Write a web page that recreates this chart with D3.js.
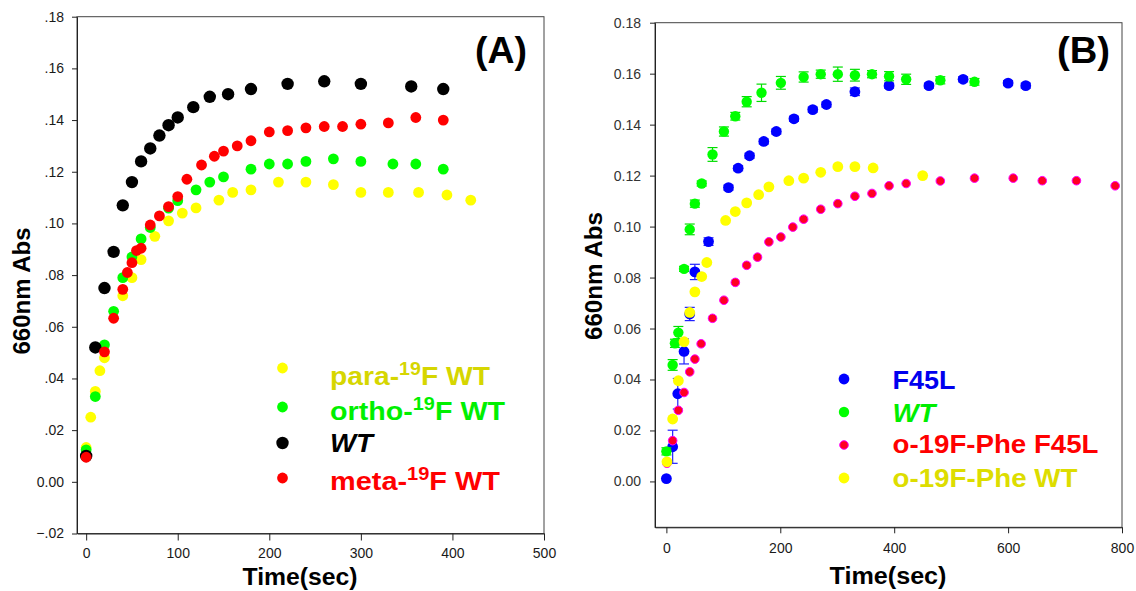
<!DOCTYPE html>
<html><head><meta charset="utf-8">
<script src="https://cdn.jsdelivr.net/npm/d3@7"></script>
<style>
body{margin:0;background:#fff}
svg{display:block}
text{font-family:"Liberation Sans",Arial,Helvetica,sans-serif}
</style>
</head><body>
<svg id="c" width="1136" height="591"></svg>
<script>
// ---------- Panel A data ----------
const paraT  = [0,5,10,15,20,40,50,60,75,90,105,120,145,160,180,210,240,270,300,330,363,394,420];
const paraV  = [.0133,.025,.035,.043,.048,.072,.079,.086,.095,.101,.104,.106,.109,.112,.113,.116,.116,.115,.112,.112,.112,.111,.109];
const orthoT = [0,10,20,30,40,50,60,70,90,100,120,135,150,180,200,220,240,270,300,335,360,390];
const orthoV = [.0124,.033,.053,.066,.079,.087,.094,.0984,.1059,.1088,.113,.116,.118,.121,.123,.123,.124,.125,.124,.123,.123,.121];
const wtAT   = [0,10,20,30,40,50,60,70,80,90,100,117,135,155,180,220,260,300,355,390];
const wtAV   = [.010,.052,.075,.089,.107,.116,.124,.129,.134,.138,.141,.145,.149,.150,.152,.154,.155,.154,.153,.152];
const metaT  = [0,20,30,40,45,50,55,60,70,80,90,100,110,126,140,150,165,180,200,220,240,260,280,300,330,360,390];
const metaV  = [.0095,.0503,.0633,.0745,.081,.0848,.0895,.0904,.0994,.1029,.1065,.1104,.1171,.1226,.126,.128,.130,.132,.1354,.1359,.137,.1375,.1375,.1384,.1389,.141,.140];
const xTicksA = [0,100,200,300,400,500];
const yTicksA = [-0.02,0,0.02,0.04,0.06,0.08,0.10,0.12,0.14,0.16,0.18];

// ---------- Panel B data ----------
const f45T = [0,11,20,31,41,50,74,109,126,146,171,193,224,257,281,331,391,461,521,600,631];
const f45V = [.0011,.0136,.0344,.051,.0657,.0822,.0941,.1153,.1229,.1278,.1334,.1373,.1423,.1459,.1479,.1529,.1553,.1553,.1578,.1563,.1553];
const f45E = [0,.0065,.006,.0049,.0026,.003,.0015,.001,.001,.001,.001,.001,.001,.001,.001,.0015,.001,.001,.001,.001,.001];
const wtBT = [0,11,15,21,31,41,50,62,81,101,121,141,167,201,241,271,301,331,361,391,421,481,541];
const wtBV = [.0118,.0457,.0542,.0584,.0834,.0989,.109,.1169,.1283,.1373,.1433,.149,.1525,.1564,.1587,.1598,.1598,.1594,.1598,.159,.1578,.1574,.1568];
const wtBE = [.0014,.0021,.0016,.0024,.001,.0021,.0014,.001,.0027,.0018,.0015,.002,.0034,.0025,.002,.0016,.0028,.0023,.0014,.0018,.002,.0014,.0013];
const oF45T = [1,11,21,31,41,50,61,81,101,121,141,160,180,201,222,241,271,301,331,361,391,421,481,541,609,660,720,788];
const oF45V = [.0071,.016,.0279,.0349,.043,.048,.054,.064,.0711,.0781,.0848,.088,.094,.0959,.0998,.1029,.1068,.109,.1119,.113,.116,.1169,.1179,.119,.119,.118,.118,.116];
const oWtT = [1,11,21,31,41,50,62,71,104,121,141,162,180,215,241,271,301,331,363,450];
const oWtV = [.0077,.0245,.0395,.0548,.0663,.0744,.0804,.0859,.1024,.1059,.1093,.1125,.1156,.118,.119,.1213,.1235,.1235,.123,.120];
const xTicksB = [0,200,400,600,800];
const yTicksB = [0,0.02,0.04,0.06,0.08,0.10,0.12,0.14,0.16,0.18];

const svg = d3.select("#c");

// ---------- scales ----------
const xA = d3.scaleLinear().domain([-10,500]).range([77,544]);
const yA = d3.scaleLinear().domain([-0.02,0.18]).range([533.5,16.7]);
const xB = d3.scaleLinear().domain([-20,800]).range([655,1122]);
const yB = d3.scaleLinear().domain([-0.018,0.18]).range([527.3,22.7]);

function frame(x, y){
  svg.append("rect")
    .attr("x", x.range()[0]).attr("y", y.range()[1])
    .attr("width", x.range()[1]-x.range()[0])
    .attr("height", y.range()[0]-y.range()[1])
    .attr("fill","none").attr("stroke","#444").attr("stroke-width",1);
}
frame(xA,yA); frame(xB,yB);

function styleAxis(g){
  g.selectAll("path").attr("stroke","#222");
  g.selectAll("line").attr("stroke","#222");
  g.selectAll("text").attr("font-size",14).attr("fill","#1a1a1a")
   .attr("font-family",'"Liberation Sans",Arial,sans-serif');
}
const fmtA = d => d===0 ? "0.00" : d3.format(".2f")(d).replace("0.",".");

// Axis A
svg.append("g").attr("transform",`translate(0,${yA.range()[0]})`)
  .call(d3.axisBottom(xA).tickValues(xTicksA).tickSize(7).tickPadding(8).tickSizeOuter(0))
  .call(styleAxis);
svg.append("g").attr("transform",`translate(${xA.range()[0]},0)`)
  .call(d3.axisLeft(yA).tickValues(yTicksA).tickFormat(fmtA).tickSize(5).tickPadding(8).tickSizeOuter(0))
  .call(styleAxis);
// Axis B
svg.append("g").attr("transform",`translate(0,${yB.range()[0]})`)
  .call(d3.axisBottom(xB).tickValues(xTicksB).tickSize(6).tickPadding(10).tickSizeOuter(0))
  .call(styleAxis);
svg.append("g").attr("transform",`translate(${xB.range()[0]},0)`)
  .call(d3.axisLeft(yB).tickValues(yTicksB).tickFormat(d3.format(".2f")).tickSize(5).tickPadding(9).tickSizeOuter(0))
  .call(g=>{styleAxis(g); g.selectAll("text").attr("fill","#333");});

// ---------- points ----------
function dots(x,y,T,V,opt){
  const data = T.map((t,i)=>({t, v:V[i], e: opt.err ? opt.err[i] : 0}));
  const g = svg.append("g");
  if (opt.err){
    const eb = g.selectAll("g.eb").data(data.filter(d=>d.e>0)).join("g")
      .attr("stroke",opt.ecol).attr("stroke-width",1.2);
    eb.append("line").attr("x1",d=>x(d.t)).attr("x2",d=>x(d.t))
      .attr("y1",d=>y(d.v-d.e)).attr("y2",d=>y(d.v+d.e));
    eb.append("line").attr("x1",d=>x(d.t)-5).attr("x2",d=>x(d.t)+5)
      .attr("y1",d=>y(d.v-d.e)).attr("y2",d=>y(d.v-d.e));
    eb.append("line").attr("x1",d=>x(d.t)-5).attr("x2",d=>x(d.t)+5)
      .attr("y1",d=>y(d.v+d.e)).attr("y2",d=>y(d.v+d.e));
  }
  g.selectAll("circle").data(data).join("circle")
    .attr("cx",d=>x(d.t)).attr("cy",d=>y(d.v)).attr("r",opt.r)
    .attr("fill",opt.fill)
    .attr("stroke",opt.stroke||"none").attr("stroke-width",opt.sw||0);
}

// Panel A
dots(xA,yA,paraT,paraV,{r:5.4,fill:"#ffff00"});
dots(xA,yA,orthoT,orthoV,{r:5.4,fill:"#00ff00"});
dots(xA,yA,wtAT,wtAV,{r:6.2,fill:"#000000"});
dots(xA,yA,metaT,metaV,{r:5.4,fill:"#ff0000"});

// Panel B
dots(xB,yB,f45T,f45V,{r:5.4,fill:"#0000ff",err:f45E,ecol:"#2020ff"});
dots(xB,yB,wtBT,wtBV,{r:5.2,fill:"#00ff00",err:wtBE,ecol:"#00dd00"});
dots(xB,yB,oF45T,oF45V,{r:4.3,fill:"#ff0022",stroke:"#ff00ff",sw:1});
dots(xB,yB,oWtT,oWtV,{r:5.4,fill:"#ffff00"});

// ---------- titles ----------
function label(x,y,txt,opt){
  const t = svg.append("text").attr("x",x).attr("y",y)
    .attr("font-size",opt.size).attr("font-weight","bold")
    .attr("fill",opt.fill||"#000")
    .attr("text-anchor",opt.anchor||"start");
  if (opt.rotate) t.attr("transform",`rotate(-90,${x},${y})`);
  if (opt.italic) t.attr("font-style","italic");
  t.text(txt);
  if (opt.len) t.attr("textLength",opt.len).attr("lengthAdjust","spacingAndGlyphs");
  return t;
}
label(475,63,"(A)",{size:36,len:52});
label(1057,63,"(B)",{size:36,len:53});
label(300,585,"Time(sec)",{size:23,anchor:"middle",len:115});
label(888,584,"Time(sec)",{size:23,anchor:"middle",len:117});
label(30,291,"660nm Abs",{size:23,anchor:"middle",rotate:true,len:127});
label(602,276,"660nm Abs",{size:23,anchor:"middle",rotate:true,len:128});

// ---------- legends ----------
function supLabel(x,y,pre,sup,post,fill,len){
  const t = svg.append("text").attr("x",x).attr("y",y)
    .attr("font-size",26).attr("font-weight","bold").attr("fill",fill);
  t.append("tspan").text(pre);
  t.append("tspan").attr("font-size",18).attr("dy",-10).text(sup);
  t.append("tspan").attr("dy",10).text(post);
  if (len) t.attr("textLength",len).attr("lengthAdjust","spacingAndGlyphs");
}
const legA = [
  {fill:"#ffff00", r:5.4, cy:368, by:385, pre:"para-", sup:"19", post:"F WT", tc:"#d6d600", len:160},
  {fill:"#00ff00", r:5.4, cy:407, by:420, pre:"ortho-", sup:"19", post:"F WT", tc:"#00f000", len:175},
  {fill:"#000000", r:6.2, cy:443, by:452, pre:"WT", tc:"#000", len:43, italic:true},
  {fill:"#ff0000", r:5.4, cy:478, by:490, pre:"meta-", sup:"19", post:"F WT", tc:"#ff0000", len:170}
];
legA.forEach(d=>{
  svg.append("circle").attr("cx",282.5).attr("cy",d.cy).attr("r",d.r).attr("fill",d.fill);
  if (d.sup) supLabel(330,d.by,d.pre,d.sup,d.post,d.tc,d.len);
  else label(330,d.by,d.pre,{size:26,fill:d.tc,italic:d.italic,len:d.len});
});
const legB = [
  {fill:"#0000ff", r:5.4, cy:379, by:389, txt:"F45L", tc:"#0000ee", len:63},
  {fill:"#00ff00", r:5.2, cy:412, by:422, txt:"WT", tc:"#00ee00", len:43, italic:true},
  {fill:"#ff0022", r:4.3, cy:445, by:453, txt:"o-19F-Phe F45L", tc:"#ff0000", len:206, stroke:"#ff00ff"},
  {fill:"#ffff00", r:5.4, cy:478, by:487, txt:"o-19F-Phe WT", tc:"#dddd00", len:185}
];
legB.forEach(d=>{
  svg.append("circle").attr("cx",844).attr("cy",d.cy).attr("r",d.r).attr("fill",d.fill)
    .attr("stroke",d.stroke||"none").attr("stroke-width",d.stroke?1:0);
  label(892.5,d.by,d.txt,{size:26,fill:d.tc,italic:d.italic,len:d.len});
});
</script>
</body></html>
